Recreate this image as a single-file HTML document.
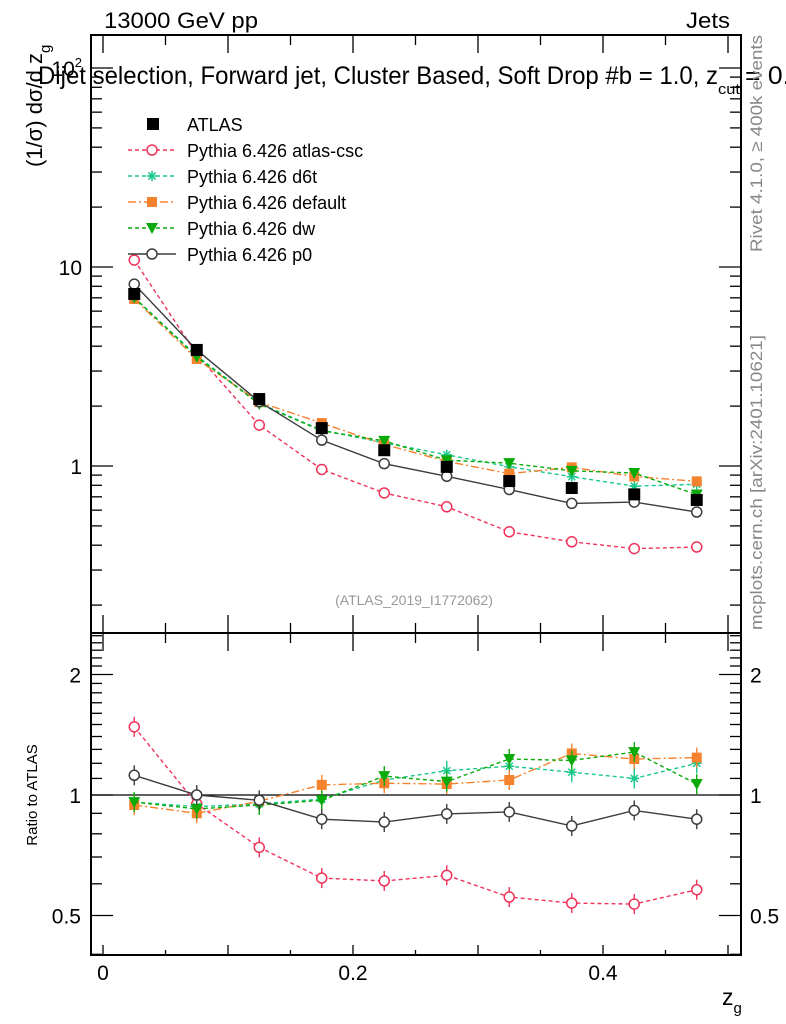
<!DOCTYPE html>
<html><head><meta charset="utf-8"><style>
html,body{margin:0;padding:0;background:#fff;}
svg{display:block;font-family:"Liberation Sans",sans-serif;}
</style></head><body>
<svg id="c" width="786" height="1024" viewBox="0 0 786 1024" xmlns="http://www.w3.org/2000/svg">
<rect x="0" y="0" width="786" height="1024" fill="#fff"/>
<g id="frames"></g>
<g id="marks"></g>
<text x="104" y="28" font-size="22" textLength="154" lengthAdjust="spacingAndGlyphs">13000 GeV pp</text>
<text x="686" y="28" font-size="22" textLength="44" lengthAdjust="spacingAndGlyphs">Jets</text>
<g>
<text x="38" y="84" font-size="25" textLength="680" lengthAdjust="spacingAndGlyphs">Dijet selection, Forward jet, Cluster Based, Soft Drop #b = 1.0, z</text>
<text x="718" y="94" font-size="15" textLength="22" lengthAdjust="spacingAndGlyphs">cut</text>
<text x="745" y="84" font-size="25" textLength="45" lengthAdjust="spacingAndGlyphs">= 0.</text>
</g>
<text transform="translate(42,167) rotate(-90)" font-size="22">(1/σ) dσ/d z<tspan font-size="15" dy="8">g</tspan></text>
<text transform="translate(762,252) rotate(-90)" font-size="17" fill="#888" textLength="217" lengthAdjust="spacingAndGlyphs">Rivet 4.1.0, ≥ 400k events</text>
<text transform="translate(762,630) rotate(-90)" font-size="17" fill="#888" textLength="295" lengthAdjust="spacingAndGlyphs">mcplots.cern.ch [arXiv:2401.10621]</text>
<text x="414" y="605" font-size="14" fill="#999" text-anchor="middle">(ATLAS_2019_I1772062)</text>
<text transform="translate(37,795) rotate(-90)" font-size="15" text-anchor="middle">Ratio to ATLAS</text>
<text x="722" y="1005" font-size="23">z<tspan font-size="15" dy="8">g</tspan></text>
<g id="legend"></g>
</svg>
<script>
const xs = [0.025,0.075,0.125,0.175,0.225,0.275,0.325,0.375,0.425,0.475];
const atlas = [7.32,3.83,2.17,1.55,1.20,0.99,0.84,0.775,0.72,0.675];
const atlasErr = [0.02,0.02,0.02,0.02,0.02,0.02,0.025,0.025,0.03,0.03];
const rCsc = [1.48,0.95,0.74,0.62,0.61,0.63,0.556,0.537,0.534,0.58];
const rD6t = [0.96,0.935,0.95,0.977,1.09,1.15,1.18,1.14,1.10,1.2];
const rDef = [0.944,0.9,0.965,1.06,1.07,1.065,1.09,1.27,1.23,1.24];
const rDw = [0.96,0.923,0.944,0.97,1.115,1.08,1.23,1.22,1.28,1.065];
const rP0 = [1.12,1.0,0.97,0.87,0.856,0.897,0.907,0.837,0.915,0.87];
const xTicks = [0,0.2,0.4];
const xTickLabels = ["0","0.2","0.4"];
const ratioTicks = [0.5,1,2];
const ratioTickLabels = ["0.5","1","2"];

const NS="http://www.w3.org/2000/svg";
const L=91,R=741,T=35,MB=633,RB=955;
const X=v=>103+v*1250;
const Y=v=>466-Math.log10(v)*199;
const YR=v=>795-Math.log2(v)*120.5;
function mk(tag,attrs,parent){const e=document.createElementNS(NS,tag);for(const k in attrs)e.setAttribute(k,attrs[k]);parent.appendChild(e);return e;}
const fr=document.getElementById('frames'), mg=document.getElementById('marks'), lg=document.getElementById('legend');

let f1=mk('rect',{x:L,y:T,width:R-L,height:MB-T,fill:'none',stroke:'#000','stroke-width':2},fr);


let f2=mk('rect',{x:L,y:MB,width:R-L,height:RB-MB,fill:'none',stroke:'#000','stroke-width':2},fr);



for(let i=0;i<=10;i++){const v=i*0.05,x=X(v),len=(i%2==0)?18:10;
 [[T,1],[MB,-1],[MB,1],[RB,-1]].forEach(([y0,d])=>{const l2=(y0==RB)?(i%2==0?10:5):len;mk('line',{x1:x,x2:x,y1:y0,y2:y0+d*l2,stroke:'#000','stroke-width':1.3},fr);});}
xTicks.forEach((v,i)=>{let t=mk('text',{x:X(v),y:980,'font-size':21,'text-anchor':'middle'},fr);t.textContent=xTickLabels[i];
 
 });

for(let d=-1;d<=2;d++){for(let m=1;m<=9;m++){const v=m*Math.pow(10,d);const y=Y(v);if(y<T||y>MB)continue;const len=m==1?22:11;
 mk('line',{x1:L,x2:L+len,y1:y,y2:y,stroke:'#000','stroke-width':1.3},fr);
 mk('line',{x1:R,x2:R-len,y1:y,y2:y,stroke:'#000','stroke-width':1.3},fr);}}
[[10,'10'],[1,'1']].forEach(([v,s])=>{let t=mk('text',{x:L-9,y:Y(v)+8,'font-size':21,'text-anchor':'end'},fr);t.textContent=s;
 
 });
let t100=mk('text',{x:L-9,y:Y(100)+8,'font-size':21,'text-anchor':'end'},fr);t100.innerHTML='10<tspan font-size="13" dy="-9">2</tspan>';



for(let v=0.4;v<=2.6;v+=0.1){const y=YR(v);if(y<MB||y>RB)continue;const major=Math.abs(v-0.5)<1e-6||Math.abs(v-1)<1e-6||Math.abs(v-2)<1e-6;const len=major?22:11;
 mk('line',{x1:L,x2:L+len,y1:y,y2:y,stroke:'#000','stroke-width':1.3},fr);
 mk('line',{x1:R,x2:R-len,y1:y,y2:y,stroke:'#000','stroke-width':1.3},fr);}
ratioTicks.forEach((v,i)=>{
 let t=mk('text',{x:L-10,y:YR(v)+8,'font-size':21,'text-anchor':'end'},fr);t.textContent=ratioTickLabels[i];
 
 
 let t2=mk('text',{x:R+9,y:YR(v)+8,'font-size':21},fr);t2.textContent=ratioTickLabels[i];
 
 });
let ref=mk('line',{x1:L,x2:R,y1:YR(1),y2:YR(1),stroke:'#000','stroke-width':1.3},mg);



function marker(g,type,x,y,col){
 if(type=='sq') mk('rect',{x:x-6,y:y-6,width:12,height:12,fill:col},g);
 else if(type=='osq') mk('rect',{x:x-5,y:y-5,width:10,height:10,fill:col},g);
 else if(type=='circ') mk('circle',{cx:x,cy:y,r:5,fill:'#fff',stroke:col,'stroke-width':1.5},g);
 else if(type=='star'){for(let a=0;a<4;a++){const an=a*Math.PI/4;mk('line',{x1:x-5*Math.cos(an),y1:y-5*Math.sin(an),x2:x+5*Math.cos(an),y2:y+5*Math.sin(an),stroke:col,'stroke-width':1.5},g);}}
 else if(type=='tri') mk('polygon',{points:`${x-6},${y-5} ${x+6},${y-5} ${x},${y+6}`,fill:col},g);
}
const series=[
 {name:'atlas-csc',r:rCsc,col:'#f0325a',dash:'4,3',m:'circ',label:'Pythia 6.426 atlas-csc'},
 {name:'d6t',r:rD6t,col:'#19c88c',dash:'4,3',m:'star',label:'Pythia 6.426 d6t'},
 {name:'default',r:rDef,col:'#f5822d',dash:'8,3,2,3',m:'osq',label:'Pythia 6.426 default'},
 {name:'dw',r:rDw,col:'#0aaa0a',dash:'4,3',m:'tri',label:'Pythia 6.426 dw'},
 {name:'p0',r:rP0,col:'#3c3c3c',dash:'',m:'circ',label:'Pythia 6.426 p0'}];

series.forEach(s=>{
 const g=mk('g',{},mg);
 
 
 const main=xs.map((x,i)=>[X(x),Y(atlas[i]*s.r[i])]);
 const rat=xs.map((x,i)=>[X(x),YR(s.r[i])]);
 [main,rat].forEach((pts,k)=>{
  const p=mk('polyline',{points:pts.map(q=>q.join(',')).join(' '),fill:'none',stroke:s.col,'stroke-width':1.4},g);
  if(s.dash)p.setAttribute('stroke-dasharray',s.dash);
  
  
  pts.forEach((q,i)=>{const e=k?10:5;mk('line',{x1:q[0],x2:q[0],y1:q[1]-e,y2:q[1]+e,stroke:s.col,'stroke-width':1.4},g);
   marker(g,s.m,q[0],q[1],s.col);});
 });
});
const ga=mk('g',{},mg);


xs.forEach((x,i)=>{const y=Y(atlas[i]);const e=atlasErr[i]*atlas[i];
 mk('line',{x1:X(x),x2:X(x),y1:Y(atlas[i]+e),y2:Y(atlas[i]-e),stroke:'#000','stroke-width':1.4},ga);
 marker(ga,'sq',X(x),y,'#000');});

const ly=[124,150,176,202,228,254];
let e0=mk('g',{},lg);


marker(e0,'sq',153,ly[0],'#000');
function ltext(g,y,s){const t=mk('text',{x:187,y:y+7,'font-size':18},g);t.textContent=s;return t;}
ltext(e0,ly[0],'ATLAS');
series.forEach((s,i)=>{const y=ly[i+1];const g=mk('g',{},lg);
 
 
 const l=mk('line',{x1:128,x2:176,y1:y,y2:y,stroke:s.col,'stroke-width':1.4},g);if(s.dash)l.setAttribute('stroke-dasharray',s.dash);
 marker(g,s.m,152,y,s.col);
 ltext(g,y,s.label);});
</script>
</body></html>
